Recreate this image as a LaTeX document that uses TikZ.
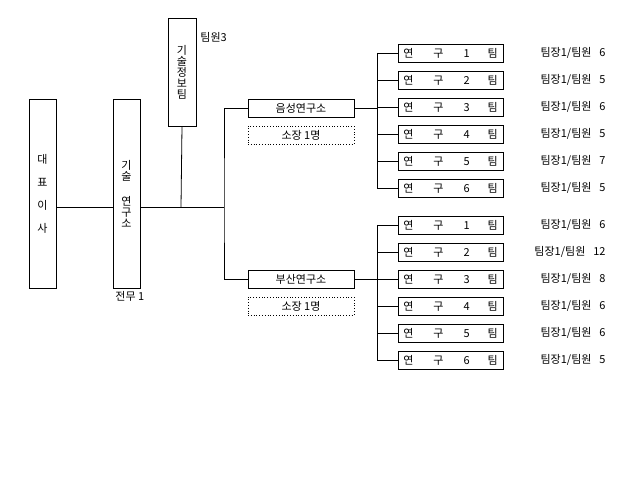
\documentclass[tikz,border=0pt]{standalone}
\usepackage{fontspec}
\setmainfont{Noto Sans CJK KR}
\tikzset{
  box/.style={draw,thick,inner sep=0pt,font=\fontsize{11}{11}\selectfont},
  teambox/.style={box,minimum width=105pt,minimum height=18pt},
  labbox/.style={box,minimum width=106pt,minimum height=18pt},
  chief/.style={draw,dotted,thick,minimum width=106pt,minimum height=18pt,inner sep=0pt,font=\fontsize{11}{11}\selectfont},
  lab/.style={inner sep=0pt,font=\fontsize{11}{11}\selectfont},
}
\begin{document}
\begin{tikzpicture}[x=1pt,y=-1pt,thick]
	\useasboundingbox (0,0) rectangle (640,481);
	\node[box,minimum width=27pt,minimum height=189pt,align=center] (ceo) at (42.5,193.5)
	{대\\[12pt]표\\[12pt]이\\[12pt]사};
	\node[box,minimum width=27pt,minimum height=189pt,align=center] (rnd) at (126.5,193.5)
	{기\\술\\[14pt]연\\구\\소};
	\node[lab,anchor=north west] (rndn) at (115,291) {전무 1};
	\node[box,minimum width=28pt,minimum height=108pt,align=center] (info) at (182,72)
	{기\\술\\정\\보\\팀};
	\node[lab,anchor=west] (infon) at (200,37) {팀원3};
	\coordinate (hub) at (224,207);
	\coordinate (tap) at (181,207);
	\draw (ceo.east |- hub) -- (rnd.west |- hub);
	\draw (rnd.east |- hub) -- (hub);
	\draw (info.south) -- (tap);

	\node[labbox] (lab1) at (301,108) {음성연구소};
	\node[chief] (chief1) at (301,135) {소장 1명};
	\node[labbox] (lab2) at (301,279) {부산연구소};
	\node[chief] (chief2) at (301,306) {소장 1명};
	\draw (lab1.west) -| (hub) |- (lab2.west);

	\foreach \g/\y/\ns in {1/53/{6,5,6,5,7,5},2/225/{6,12,8,6,6,5}}{
		\coordinate (bus\g) at (377,\y);
		\foreach \n [count=\i] in \ns{
			\node[teambox] (t\g\i) at (450.5,\y+27*\i-27)
			{연\hspace{20pt}구\hspace{20pt}\i\hspace{18pt}팀};
			\draw (t\g\i.west) -- (377,\y+27*\i-27);
		}
		\draw (377,\y) -- (377,\y+135);
	}
	\foreach \g/\y in {1/108,2/279}
		\draw (lab\g.east) -- (377,\y);
	\foreach \n [count=\i] in {6,5,6,5,7,5}
		\node[lab,anchor=east] (m1\i) at (606,53+27*\i-27) {팀장1/팀원\hspace{8pt}\n};
	\foreach \n [count=\i] in {6,12,8,6,6,5}
		\node[lab,anchor=east] (m2\i) at (606,225+27*\i-27) {팀장1/팀원\hspace{8pt}\n};
\end{tikzpicture}
\end{document}
